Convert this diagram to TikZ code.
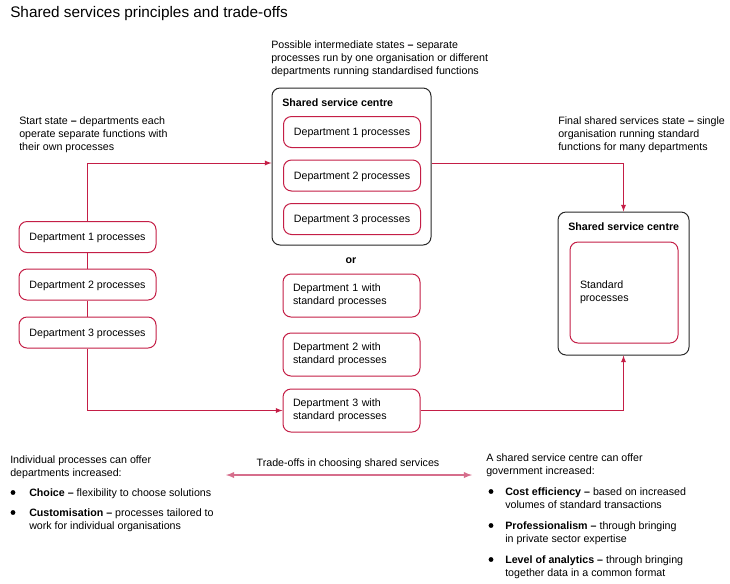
\documentclass[tikz,border=0pt]{standalone}
\usepackage{fontspec}
\setmainfont{Liberation Sans}
\usetikzlibrary{calc}
\definecolor{crimson}{RGB}{196,30,70}
\definecolor{tradepink}{RGB}{214,110,140}
\definecolor{boxgrey}{RGB}{40,40,40}
\tikzset{%
  dept box/.style = {
    draw = crimson, line width = 0.75pt, rounded corners = 6pt,
    fill = white, minimum width = 102.75pt, minimum height = 23.25pt,
    inner sep = 0pt, text depth = 0pt, font = \fontsize{8}{9.75}\selectfont
  },
  std box/.style = {
    dept box, minimum height = 32.25pt, text width = 87.75pt, text depth = ,
    align = left, inner sep = 7.5pt, minimum width = 0pt
  },
  centre box/.style = {
    draw = boxgrey, line width = 0.75pt, rounded corners = 6pt
  },
  note/.style = {
    anchor = base west, align = left, inner sep = 0pt,
    font = \fontsize{8}{9.75}\selectfont
  },
  dot/.style = {
    circle, fill = black, inner sep = 0pt, minimum size = 3.6pt
  },
  flow/.style = {
    draw = crimson, line width = 0.75pt
  }
}

\begin{document}
\begin{tikzpicture}[x=0.75pt,y=-0.75pt]
\useasboundingbox (0,0) rectangle (730,583);
\node[anchor=base west,inner sep=0pt,font=\fontsize{11.5}{14}\selectfont] (title) at (10,17.5)
  {Shared services principles and trade-offs};
% captions over the three states (placed at the baseline of the last line)
\node[note] (start) at (19,150) {Start state \textbf{--} departments each\\
  operate separate functions with\\ their own processes};
\node[note] (middle) at (271,74) {Possible intermediate states \textbf{--} separate\\
  processes run by one organisation or different\\
  departments running standardised functions};
\node[note] (final text) at (558,150) {Final shared services state \textbf{--} single\\
  organisation running standard\\ functions for many departments};
% start state
\node[dept box] (d1) at (87.5,237) {Department 1 processes};
\node[dept box] (d2) at (87.5,284.5) {Department 2 processes};
\node[dept box] (d3) at (87.5,332.5) {Department 3 processes};
% intermediate states
\node[centre box, minimum width=119.25pt, minimum height=117.75pt] (ssc) at (351.5,166.5) {};
\node[note] (ssc label) at (282,106) {\textbf{Shared service centre}};
\node[dept box] (c1) at (352,132) {Department 1 processes};
\node[dept box] (c2) at (352,175.5) {Department 2 processes};
\node[dept box] (c3) at (352,219) {Department 3 processes};
\node[anchor=base,inner sep=0pt,font=\fontsize{8}{9.75}\selectfont] (or) at (351,263) {\textbf{or}};
\node[std box] (s1) at (351.5,295.5) {Department 1 with\\ standard processes};
\node[std box] (s2) at (351.5,354.5) {Department 2 with\\ standard processes};
\node[std box] (s3) at (351.5,410.5) {Department 3 with\\ standard processes};
% final state
\node[centre box, minimum width=98.25pt, minimum height=107.25pt] (final) at (623.5,283.5) {};
\node[note] (final label) at (568,230) {\textbf{Shared service centre}};
\node[std box, minimum width=81pt, minimum height=75.75pt, text width=66pt] (standard) at (624,292.5)
  {Standard\\ processes};
% connectors
\draw[flow] (d1) -- (d2);
\draw[flow] (d2) -- (d3);
\draw[flow,-latex] (d1.north) |- ($(ssc.west)+(0,-3.5)$);
\draw[flow,-latex] ($(ssc.east)+(0,-3.5)$) -| (final.north);
\draw[flow,-latex] (d3.south) |- (s3.west);
\draw[flow,-latex] (s3.east) -| (final.south);
% trade-offs
\coordinate (trade left) at (226,475);
\coordinate (trade right) at (472,475);
\node[anchor=base,inner sep=0pt,font=\fontsize{8}{9.75}\selectfont] (trade) at (348,466)
  {Trade-offs in choosing shared services};
\draw[draw=tradepink,line width=1.1pt,latex-latex] (trade left) -- (trade right);
\node[note] (individual) at (10,476) {Individual processes can offer\\ departments increased:};
\node[dot] (b1) at (13,492.5) {};
\node[note] (choice) at (29,496) {\textbf{Choice --} flexibility to choose solutions};
\node[dot] (b2) at (13,512.5) {};
\node[note] (custom) at (29,529) {\textbf{Customisation --} processes tailored to\\
  work for individual organisations};
\node[note] (shared) at (486,474) {A shared service centre can offer\\ government increased:};
\node[dot] (b3) at (491,491.5) {};
\node[note] (cost) at (505,508) {\textbf{Cost efficiency --} based on increased\\
  volumes of standard transactions};
\node[dot] (b4) at (491,525.5) {};
\node[note] (prof) at (505,542) {\textbf{Professionalism --} through bringing\\
  in private sector expertise};
\node[dot] (b5) at (491,559.5) {};
\node[note] (analytics) at (505,576) {\textbf{Level of analytics --} through bringing\\
  together data in a common format};
\end{tikzpicture}
\end{document}
